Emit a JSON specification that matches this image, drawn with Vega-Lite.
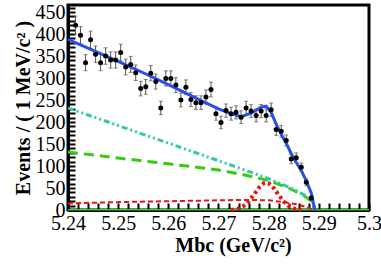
{
  "$schema": "https://vega.github.io/schema/vega-lite/v6.json",
  "autosize": "none",
  "width": 301,
  "height": 205,
  "padding": {"left": 68, "top": 5, "right": 12, "bottom": 54},
  "background": "white",
  "config": {
    "view": {"stroke": "black", "strokeWidth": 3},
    "axis": {
      "domainColor": "black",
      "domainWidth": 3,
      "tickColor": "black",
      "tickWidth": 2,
      "labelFont": "Liberation Serif",
      "labelFontSize": 20,
      "labelColor": "black",
      "titleFont": "Liberation Serif",
      "titleFontSize": 20,
      "titleFontWeight": "bold",
      "titleColor": "black",
      "grid": false,
      "labelOverlap": false,
      "labelFlush": false,
      "labelBound": false
    }
  },
  "datasets": {
    "points": [
      {"m": 5.2415, "v": 420, "e": 20.5},
      {"m": 5.2425, "v": 397, "e": 19.9},
      {"m": 5.2435, "v": 335, "e": 18.3},
      {"m": 5.2445, "v": 387, "e": 19.7},
      {"m": 5.2455, "v": 354, "e": 18.8},
      {"m": 5.2465, "v": 335, "e": 18.3},
      {"m": 5.2475, "v": 350, "e": 18.7},
      {"m": 5.2485, "v": 341, "e": 18.5},
      {"m": 5.2495, "v": 341, "e": 18.5},
      {"m": 5.2505, "v": 358, "e": 18.9},
      {"m": 5.2515, "v": 325, "e": 18.0},
      {"m": 5.2525, "v": 331, "e": 18.2},
      {"m": 5.2535, "v": 312, "e": 17.7},
      {"m": 5.2545, "v": 276, "e": 16.6},
      {"m": 5.2555, "v": 280, "e": 16.7},
      {"m": 5.2565, "v": 311, "e": 17.6},
      {"m": 5.2575, "v": 292, "e": 17.1},
      {"m": 5.2585, "v": 232, "e": 15.2},
      {"m": 5.2595, "v": 299, "e": 17.3},
      {"m": 5.2605, "v": 299, "e": 17.3},
      {"m": 5.2615, "v": 284, "e": 16.9},
      {"m": 5.2625, "v": 250, "e": 15.8},
      {"m": 5.2635, "v": 279, "e": 16.7},
      {"m": 5.2645, "v": 251, "e": 15.8},
      {"m": 5.2655, "v": 244, "e": 15.6},
      {"m": 5.2665, "v": 244, "e": 15.6},
      {"m": 5.2675, "v": 257, "e": 16.0},
      {"m": 5.2685, "v": 274, "e": 16.6},
      {"m": 5.2695, "v": 219, "e": 14.8},
      {"m": 5.2705, "v": 199, "e": 14.1},
      {"m": 5.2715, "v": 226, "e": 15.0},
      {"m": 5.2725, "v": 219, "e": 14.8},
      {"m": 5.2735, "v": 222, "e": 14.9},
      {"m": 5.2745, "v": 211, "e": 14.5},
      {"m": 5.2755, "v": 232, "e": 15.2},
      {"m": 5.2765, "v": 225, "e": 15.0},
      {"m": 5.2775, "v": 215, "e": 14.7},
      {"m": 5.2785, "v": 225, "e": 15.0},
      {"m": 5.2795, "v": 215, "e": 14.7},
      {"m": 5.2805, "v": 228, "e": 15.1},
      {"m": 5.2815, "v": 183, "e": 13.5},
      {"m": 5.2825, "v": 179, "e": 13.4},
      {"m": 5.2835, "v": 158, "e": 12.6},
      {"m": 5.2845, "v": 116, "e": 10.8},
      {"m": 5.2855, "v": 119, "e": 10.9},
      {"m": 5.2865, "v": 97, "e": 9.8},
      {"m": 5.2875, "v": 63, "e": 7.9},
      {"m": 5.2885, "v": 27, "e": 5.2}
    ],
    "total": [
      {"m": 5.240, "v": 388}, {"m": 5.245, "v": 363}, {"m": 5.250, "v": 338},
      {"m": 5.255, "v": 312}, {"m": 5.260, "v": 285}, {"m": 5.265, "v": 257},
      {"m": 5.270, "v": 230}, {"m": 5.2725, "v": 219}, {"m": 5.2745, "v": 212},
      {"m": 5.2765, "v": 220}, {"m": 5.2785, "v": 234}, {"m": 5.2795, "v": 236},
      {"m": 5.2805, "v": 222}, {"m": 5.2815, "v": 195}, {"m": 5.2825, "v": 172},
      {"m": 5.2835, "v": 152}, {"m": 5.2845, "v": 128}, {"m": 5.2855, "v": 108},
      {"m": 5.2865, "v": 90}, {"m": 5.2875, "v": 66}, {"m": 5.2885, "v": 38},
      {"m": 5.2892, "v": 0}
    ],
    "cyan": [
      {"m": 5.240, "v": 232}, {"m": 5.245, "v": 212}, {"m": 5.250, "v": 192},
      {"m": 5.255, "v": 172}, {"m": 5.260, "v": 152}, {"m": 5.265, "v": 132},
      {"m": 5.270, "v": 112}, {"m": 5.275, "v": 92}, {"m": 5.280, "v": 71},
      {"m": 5.284, "v": 52}, {"m": 5.287, "v": 35}, {"m": 5.2885, "v": 22},
      {"m": 5.289, "v": 12}, {"m": 5.2892, "v": 0}
    ],
    "green": [
      {"m": 5.240, "v": 132}, {"m": 5.250, "v": 118}, {"m": 5.260, "v": 105},
      {"m": 5.270, "v": 91}, {"m": 5.275, "v": 80}, {"m": 5.280, "v": 67},
      {"m": 5.284, "v": 50}, {"m": 5.287, "v": 33}, {"m": 5.2885, "v": 20},
      {"m": 5.2892, "v": 0}
    ],
    "reddash": [
      {"m": 5.240, "v": 15}, {"m": 5.250, "v": 18}, {"m": 5.260, "v": 20},
      {"m": 5.270, "v": 22}, {"m": 5.275, "v": 23}, {"m": 5.280, "v": 22},
      {"m": 5.283, "v": 18}, {"m": 5.286, "v": 12}, {"m": 5.288, "v": 5},
      {"m": 5.289, "v": 0}
    ],
    "signal": [
      {"m": 5.2725, "v": 0.5}, {"m": 5.273, "v": 1}, {"m": 5.274, "v": 3.5},
      {"m": 5.275, "v": 9}, {"m": 5.276, "v": 19.5}, {"m": 5.277, "v": 34},
      {"m": 5.278, "v": 50}, {"m": 5.279, "v": 60.6}, {"m": 5.2795, "v": 62},
      {"m": 5.280, "v": 60.6}, {"m": 5.281, "v": 50}, {"m": 5.282, "v": 34},
      {"m": 5.283, "v": 19.5}, {"m": 5.284, "v": 9}, {"m": 5.285, "v": 3.5},
      {"m": 5.286, "v": 1}, {"m": 5.2865, "v": 0.5}
    ],
    "zero": [
      {"m": 5.240, "v": 0.3}, {"m": 5.300, "v": 0.3}
    ]
  },
  "encoding": {
    "x": {"field": "m", "type": "quantitative",
      "scale": {"domain": [5.24, 5.30], "nice": false, "zero": false},
      "axis": {
        "title": "Mbc (GeV/c²)",
        "values": [5.24, 5.242, 5.244, 5.246, 5.248, 5.25, 5.252, 5.254, 5.256, 5.258, 5.26, 5.262, 5.264, 5.266, 5.268, 5.27, 5.272, 5.274, 5.276, 5.278, 5.28, 5.282, 5.284, 5.286, 5.288, 5.29, 5.292, 5.294, 5.296, 5.298, 5.3],
        "labelExpr": "(round(datum.value*1000) % 10 == 0) ? format(datum.value, '~g') : ''",
        "ticks": true,
        "tickSize": -7,
        "labelOverlap": false,
        "labelPadding": 10,
        "titlePadding": 2,
        "titleX": 165
      }
    },
    "y": {"field": "v", "type": "quantitative",
      "scale": {"domain": [0, 466], "nice": false},
      "axis": {
        "title": "Events / ( 1 MeV/c² )",
        "values": [0, 10, 20, 30, 40, 50, 60, 70, 80, 90, 100, 110, 120, 130, 140, 150, 160, 170, 180, 190, 200, 210, 220, 230, 240, 250, 260, 270, 280, 290, 300, 310, 320, 330, 340, 350, 360, 370, 380, 390, 400, 410, 420, 430, 440, 450, 460],
        "labelExpr": "(datum.value % 50 == 0) ? datum.label : ''",
        "ticks": true,
        "tickSize": -7,
        "labelOverlap": false,
        "labelPadding": 10,
        "titlePadding": 2
      }
    }
  },
  "layer": [
    {
      "data": {"name": "zero"},
      "mark": {"type": "line", "color": "#33cc33", "strokeWidth": 1.5}
    },
    {
      "data": {"name": "reddash"},
      "mark": {"type": "line", "color": "#ee1111", "strokeWidth": 2, "strokeDash": [5, 3]}
    },
    {
      "data": {"name": "green"},
      "mark": {"type": "line", "color": "#33cc11", "strokeWidth": 3, "strokeDash": [10, 6]}
    },
    {
      "data": {"name": "cyan"},
      "mark": {"type": "line", "color": "#33c9a5", "strokeWidth": 3, "strokeDash": [6, 3, 2, 3, 2, 3]}
    },
    {
      "data": {"name": "signal"},
      "mark": {"type": "line", "color": "#ee1111", "strokeWidth": 4, "strokeDash": [3, 3]}
    },
    {
      "data": {"name": "points"},
      "mark": {"type": "errorbar", "ticks": {"size": 4, "color": "#555555"}, "rule": {"color": "#555555", "strokeWidth": 1}},
      "encoding": {"yError": {"field": "e"}}
    },
    {
      "data": {"name": "total"},
      "mark": {"type": "line", "color": "#2850e6", "strokeWidth": 3}
    },
    {
      "data": {"name": "points"},
      "mark": {"type": "point", "filled": true, "shape": "circle", "color": "black", "size": 25, "opacity": 1}
    }
  ]
}
